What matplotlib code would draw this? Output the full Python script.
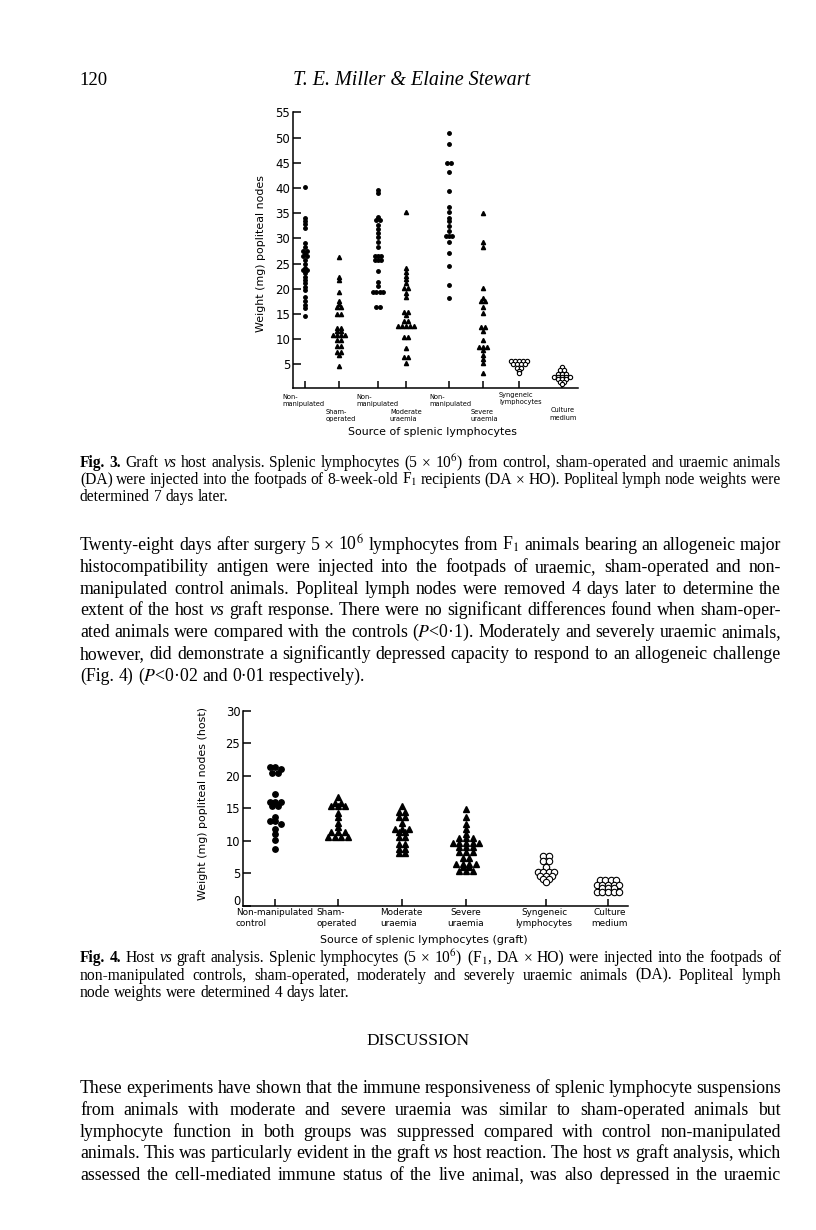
import numpy as np
import matplotlib.pyplot as plt
import matplotlib.transforms as mtransforms

plt.rcParams['mathtext.fontset'] = 'stix'

W, H = 816, 1230
SANS = 'DejaVu Sans'
SERIF = 'Liberation Serif'

# ---------------- Fig. 3 : graft vs host, node weight (mg) ----------------
fig3_labels = ['Non-\nmanipulated', 'Sham-\noperated', 'Non-\nmanipulated', 'Moderate\nuraemia',
               'Non-\nmanipulated', 'Severe\nuraemia', 'Syngeneic\nlymphocytes', 'Culture\nmedium']
fig3_kind = ['dot', 'tri', 'dot', 'tri', 'dot', 'tri', 'open', 'open']
fig3_nonmanip_a = [40.2, 34.0, 33.4, 32.8, 32.1, 29.1, 28.3, 27.5, 27.5, 26.9, 26.5, 26.5, 25.7, 25.0,
                   24.2, 23.7, 23.7, 23.2, 22.4, 21.7, 21.1, 20.4, 19.7, 18.3, 17.6, 16.8, 16.1, 14.6]
fig3_sham = [26.2, 22.4, 21.7, 19.4, 17.6, 17.0, 16.3, 16.3, 15.0, 15.0, 12.3, 12.3, 11.7, 11.7,
             10.8, 10.8, 10.8, 10.8, 9.8, 9.8, 8.7, 8.7, 7.5, 7.5, 6.8, 4.7]
fig3_nonmanip_b = [39.6, 38.9, 34.2, 33.6, 33.6, 32.6, 31.8, 31.0, 30.2, 29.3, 28.3, 26.4, 26.4, 26.4,
                   25.7, 25.7, 25.7, 23.6, 21.4, 20.5, 19.4, 19.4, 19.4, 19.4, 16.4, 16.4]
fig3_moderate = [35.3, 24.2, 23.4, 22.6, 21.9, 21.1, 20.2, 20.2, 19.1, 18.3, 15.4, 15.4, 14.8, 13.5,
                 13.5, 12.6, 12.6, 12.6, 12.6, 12.6, 10.5, 10.5, 8.2, 6.5, 6.5, 5.3]
fig3_nonmanip_c = [50.9, 48.8, 45.0, 45.0, 43.2, 39.4, 36.3, 35.3, 34.0, 33.4, 32.4, 31.5, 30.5, 30.5,
                   30.5, 29.3, 27.0, 24.6, 20.7, 18.2]
fig3_severe = [35.1, 29.3, 28.3, 20.2, 18.2, 17.6, 17.6, 16.3, 15.2, 12.5, 12.5, 11.6, 9.8, 8.4, 8.4,
               8.4, 7.8, 6.8, 6.0, 5.3, 3.3]
fig3_syngeneic = [5.6, 5.6, 5.6, 5.6, 5.6, 5.0, 5.0, 5.0, 5.0, 4.3, 4.3, 3.7, 3.2]
fig3_culture = [4.5, 3.8, 3.8, 3.1, 3.1, 3.1, 2.5, 2.5, 2.5, 2.5, 2.5, 2.0, 2.0, 2.0, 1.5, 1.5, 1.0]
fig3_values = [fig3_nonmanip_a, fig3_sham, fig3_nonmanip_b, fig3_moderate,
               fig3_nonmanip_c, fig3_severe, fig3_syngeneic, fig3_culture]

# ---------------- Fig. 4 : host vs graft, node weight (mg) ----------------
fig4_labels = ['Non-manipulated\ncontrol', 'Sham-\noperated', 'Moderate\nuraemia',
               'Severe\nuraemia', 'Syngeneic\nlymphocytes', 'Culture\nmedium']
fig4_kind = ['dot', 'tri', 'tri', 'tri', 'open', 'open']
fig4_control = [21.4, 21.4, 21.0, 20.4, 20.4, 17.2, 16.0, 16.0, 16.0, 15.3, 15.3, 13.7, 13.0, 13.0,
                12.6, 11.9, 11.0, 10.1, 8.8]
fig4_sham = [16.7, 15.9, 15.9, 15.3, 15.3, 15.3, 14.3, 13.6, 12.7, 12.2, 11.3, 11.3, 11.3,
             10.6, 10.6, 10.6, 10.6]
fig4_moderate = [15.3, 14.5, 14.5, 13.7, 13.7, 12.7, 11.9, 11.9, 11.9, 11.3, 11.3, 10.6, 10.6,
                 9.5, 9.5, 8.7, 8.7, 8.2, 8.2]
fig4_severe = [14.9, 13.6, 12.6, 11.8, 11.0, 10.5, 10.5, 10.5, 9.7, 9.7, 9.7, 9.7, 9.7, 9.1, 9.1,
               9.1, 8.3, 8.3, 8.3, 7.3, 7.3, 6.5, 6.5, 6.5, 6.5, 6.0, 6.0, 5.4, 5.4, 5.4]
fig4_syngeneic = [7.7, 7.7, 6.9, 6.9, 6.0, 5.2, 5.2, 5.2, 5.2, 4.6, 4.6, 4.6, 4.1, 4.1, 3.6]
fig4_culture = [4.0, 4.0, 4.0, 4.0, 3.2, 3.2, 3.2, 3.2, 3.2, 2.7, 2.7, 2.7, 2.2, 2.2, 2.2, 2.2, 2.2]
fig4_values = [fig4_control, fig4_sham, fig4_moderate, fig4_severe, fig4_syngeneic, fig4_culture]

# page text
caption3 = [
    "*Fig. *3. Graft ~vs host analysis. Splenic lymphocytes (5 × 10$^6$) from control, sham-operated and uraemic animals",
    "(DA) were injected into the footpads of 8-week-old F$_1$ recipients (DA × HO). Popliteal lymph node weights were",
    "determined 7 days later.",
]
body = [
    "Twenty-eight days after surgery 5 × 10$^6$ lymphocytes from F$_1$ animals bearing an allogeneic major",
    "histocompatibility antigen were injected into the footpads of uraemic, sham-operated and non-",
    "manipulated control animals. Popliteal lymph nodes were removed 4 days later to determine the",
    "extent of the host ~vs graft response. There were no significant differences found when sham-oper-",
    "ated animals were compared with the controls ($P$<0·1). Moderately and severely uraemic animals,",
    "however, did demonstrate a significantly depressed capacity to respond to an allogeneic challenge",
    "(Fig. 4) ($P$<0·02 and 0·01 respectively).",
]
caption4 = [
    "*Fig. *4. Host ~vs graft analysis. Splenic lymphocytes (5 × 10$^6$) (F$_1$, DA × HO) were injected into the footpads of",
    "non-manipulated controls, sham-operated, moderately and severely uraemic animals (DA). Popliteal lymph",
    "node weights were determined 4 days later.",
]
discussion = [
    "These experiments have shown that the immune responsiveness of splenic lymphocyte suspensions",
    "from animals with moderate and severe uraemia was similar to sham-operated animals but",
    "lymphocyte function in both groups was suppressed compared with control non-manipulated",
    "animals. This was particularly evident in the graft ~vs host reaction. The host ~vs graft analysis, which",
    "assessed the cell-mediated immune status of the live animal, was also depressed in the uraemic",
]

fig = plt.figure(figsize=(W / 100, H / 100), dpi=100)
fig.patch.set_facecolor('white')
renderer = fig.canvas.get_renderer()


def fx(x):
    return x / W


def fy(y):
    return 1 - y / H


def px_axes(x0, y0, x1, y1):
    return fig.add_axes([fx(x0), fy(y1), (x1 - x0) / W, (y1 - y0) / H])


def ptext(x, y, s, **kw):
    return fig.text(fx(x), fy(y), s, **kw)


def swarm(vals, tol):
    # spread nearly equal values side by side, like the hand-drawn dot plots
    v = np.sort(np.asarray(vals, float))[::-1]
    off = np.zeros(len(v))
    i = 0
    while i < len(v):
        j = i
        while j + 1 < len(v) and v[i] - v[j + 1] <= tol:
            j += 1
        n = j - i + 1
        off[i:j + 1] = np.arange(n) - (n - 1) / 2
        i = j + 1
    return v, off


def draw_groups(ax, xpos, values, kinds, dx, ms, tol):
    for x, vals, kind in zip(xpos, values, kinds):
        v, off = swarm(vals, tol)
        if kind == 'dot':
            ax.plot(x + off * dx['dot'], v, 'o', ms=ms['dot'], color='k', ls='none', clip_on=False)
        elif kind == 'tri':
            ax.plot(x + off * dx['tri'], v, '^', ms=ms['tri'], color='k', ls='none', clip_on=False)
        else:
            ax.plot(x + off * dx['open'], v, 'o', ms=ms['open'], mfc='white', mec='k',
                    mew=0.8, ls='none', clip_on=False)


def style_axes(ax, labelsize):
    for s in ['top', 'right']:
        ax.spines[s].set_visible(False)
    for s in ['left', 'bottom']:
        ax.spines[s].set_linewidth(1.1)
    ax.tick_params(axis='y', direction='in', length=6, width=1.1, labelsize=labelsize, pad=2)
    ax.tick_params(axis='x', direction='in', length=5, width=1.1, labelbottom=False)
    for t in ax.get_yticklabels():
        t.set_family(SANS)


# ---------- header ----------
ptext(79, 85, "120", size=13.5, family=SERIF, va='baseline')
ptext(412, 85, "T. E. Miller & Elaine Stewart", size=14.5, family=SERIF, style='italic',
      ha='center', va='baseline')

# ---------- Fig. 3 chart ----------
fig3_xpos = [305, 339, 378, 406, 449, 483, 519, 562]
ax3 = px_axes(293, 112.3, 578, 388)
draw_groups(ax3, fig3_xpos, fig3_values, fig3_kind,
            dx={'dot': 3.4, 'tri': 4.0, 'open': 4.2},
            ms={'dot': 2.5, 'tri': 3.0, 'open': 3.1}, tol=0.35)
ax3.set_xlim(293, 578)
ax3.set_ylim(0.3, 55)
ax3.set_yticks(np.arange(5, 56, 5))
ax3.set_xticks(fig3_xpos)
style_axes(ax3, 8.5)

fig3_lab_xy = [(282, 400.5), (326, 415.5), (356.7, 400.5), (390, 415.5),
               (429, 400.5), (470.7, 415.5), (499, 398.5), (563, 414)]
for (lx, ly), lab in zip(fig3_lab_xy, fig3_labels):
    ha = 'center' if lab.startswith('Culture') else 'left'
    ptext(lx, ly, lab, size=4.8, family=SANS, ha=ha, va='center', multialignment=ha,
          linespacing=1.3)
ptext(432, 432, "Source of splenic lymphocytes", size=7.9, family=SANS, ha='center', va='center')
ptext(261, 254, "Weight (mg) popliteal nodes", size=7.9, family=SANS, ha='center', va='center',
      rotation=90)


# ---------- justified page text ----------
def put_line(y, line, size, justify=True, x0=80, x1=781):
    toks = []
    for tok in line.split():
        kw = dict(family=SERIF, va='baseline', ha='left')
        if tok.startswith('*'):
            tok = tok[1:]
            kw['weight'] = 'bold'
        elif tok.startswith('~'):
            tok = tok[1:]
            kw['style'] = 'italic'
        toks.append((tok, kw))
    while True:
        objs = [fig.text(fx(x0), fy(y), t, size=size, **kw) for t, kw in toks]
        widths = [o.get_window_extent(renderer).width for o in objs]
        space = size * 100 / 72 * 0.25
        if sum(widths) + space * 0.75 * (len(objs) - 1) <= x1 - x0:
            break
        for o in objs:
            o.remove()
        size *= 0.98
    if justify and len(objs) > 1:
        gap = (x1 - x0 - sum(widths)) / (len(objs) - 1)
    else:
        gap = space
    x = x0
    for o, w in zip(objs, widths):
        o.set_x(fx(x))
        x += w + gap


def put_block(lines, y0, step, size, last_justified=False):
    for i, line in enumerate(lines):
        last = i == len(lines) - 1
        put_line(y0 + i * step, line, size, justify=(not last) or last_justified)


put_block(caption3, 467, 17, 11.2)
put_block(body, 550, 21.8, 12.8)

# ---------- Fig. 4 chart ----------
fig4_xpos = [275, 338, 402, 466, 546, 608]
ax4 = px_axes(243, 711, 628, 905.8)
draw_groups(ax4, fig4_xpos, fig4_values, fig4_kind,
            dx={'dot': 5.5, 'tri': 6.6, 'open': 5.6},
            ms={'dot': 3.9, 'tri': 4.2, 'open': 4.6}, tol=0.45)
ax4.set_xlim(243, 628)
ax4.set_ylim(0, 30)
ax4.set_yticks(np.arange(0, 31, 5))
ax4.set_xticks(fig4_xpos)
style_axes(ax4, 8.3)
# the printed "0" sits a little above the axis line
zero_lab = ax4.get_yticklabels()[0]
zero_lab.set_transform(zero_lab.get_transform() +
                       mtransforms.ScaledTranslation(0, 4 / 72, fig.dpi_scale_trans))

fig4_lab_xy = [(235.7, 918), (316.7, 918), (380, 918), (465.5, 918), (544, 918), (610, 918)]
fig4_lab_ha = ['left', 'left', 'left', 'center', 'center', 'center']
for (lx, ly), lab, ha in zip(fig4_lab_xy, fig4_labels, fig4_lab_ha):
    ptext(lx, ly, lab, size=6.4, family=SANS, ha=ha, va='center', multialignment=ha,
          linespacing=1.25)
ptext(424, 940, "Source of splenic lymphocytes (graft)", size=7.9, family=SANS,
      ha='center', va='center')
ptext(203, 803, "Weight (mg) popliteal nodes (host)", size=7.9, family=SANS, ha='center',
      va='center', rotation=90)

put_block(caption4, 962, 17.5, 11.2)
ptext(418, 1045, "DISCUSSION", size=12.5, family=SERIF, ha='center', va='baseline')
put_block(discussion, 1093, 21.8, 12.8, last_justified=True)

fig.savefig('out.png', dpi=100, facecolor='white')
